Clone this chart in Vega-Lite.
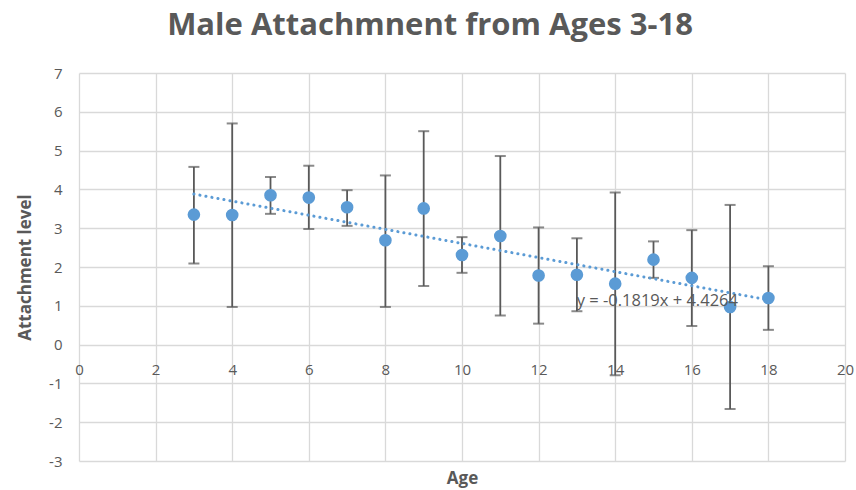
{
  "$schema": "https://vega.github.io/schema/vega-lite/v6.json",
  "autosize": "none",
  "width": 766,
  "height": 388,
  "padding": {"left": 79, "top": 73, "right": 11, "bottom": 29},
  "background": "white",
  "config": {
    "view": {"stroke": null},
    "font": "Open Sans",
    "axis": {"gridColor": "#d9d9d9", "gridWidth": 1.3, "domain": false, "ticks": false, "labelColor": "#595959", "labelFontSize": 15, "titleColor": "#595959", "titleFontSize": 17, "titleFontWeight": "bold", "labelFont": "Open Sans", "titleFont": "Open Sans", "labelOverlap": false}
  },
  "title": {"text": "Male Attachmnent from  Ages 3-18", "fontSize": 31, "fontWeight": "bold", "color": "#595959", "font": "Open Sans", "anchor": "middle", "dx": -32, "offset": 33, "dy": 33, "baseline": "alphabetic"},
  "datasets": {
    "pts": [
      {"age": 3, "mean": 3.35, "hi": 4.58, "lo": 2.09},
      {"age": 4, "mean": 3.34, "hi": 5.70, "lo": 0.97},
      {"age": 5, "mean": 3.85, "hi": 4.32, "lo": 3.37},
      {"age": 6, "mean": 3.79, "hi": 4.61, "lo": 2.98},
      {"age": 7, "mean": 3.54, "hi": 3.98, "lo": 3.06},
      {"age": 8, "mean": 2.69, "hi": 4.36, "lo": 0.97},
      {"age": 9, "mean": 3.51, "hi": 5.50, "lo": 1.51},
      {"age": 10, "mean": 2.31, "hi": 2.77, "lo": 1.85},
      {"age": 11, "mean": 2.80, "hi": 4.86, "lo": 0.75},
      {"age": 12, "mean": 1.78, "hi": 3.02, "lo": 0.54},
      {"age": 13, "mean": 1.80, "hi": 2.74, "lo": 0.86},
      {"age": 14, "mean": 1.57, "hi": 3.92, "lo": -0.79},
      {"age": 15, "mean": 2.19, "hi": 2.66, "lo": 1.72},
      {"age": 16, "mean": 1.72, "hi": 2.95, "lo": 0.48},
      {"age": 17, "mean": 0.97, "hi": 3.60, "lo": -1.66},
      {"age": 18, "mean": 1.20, "hi": 2.02, "lo": 0.38}
    ],
    "trend": [
      {"age": 3, "fit": 3.8807},
      {"age": 18, "fit": 1.1522}
    ],
    "eq": [
      {"age": 15.1, "val": 1.13, "label": "y = -0.1819x + 4.4264"}
    ]
  },
  "encoding": {
    "x": {"field": "age", "type": "quantitative", "scale": {"domain": [0, 20], "nice": false},
      "axis": {"title": "Age", "values": [0, 2, 4, 6, 8, 10, 12, 14, 16, 18, 20], "tickCount": 25, "format": "d", "labelPadding": -92, "labelBaseline": "middle", "titleY": 17, "titleBaseline": "middle", "labelFlush": false}}
  },
  "layer": [
    {
      "data": {"name": "pts"},
      "mark": {"type": "rule", "color": "#595959", "strokeWidth": 1.8},
      "encoding": {
        "y": {"field": "lo", "type": "quantitative", "scale": {"domain": [-3, 7], "nice": false},
          "axis": {"title": "Attachment level", "values": [-3, -2, -1, 0, 1, 2, 3, 4, 5, 6, 7], "tickCount": 20, "format": "d", "labelExpr": "replace(datum.label, '−', '-')", "labelPadding": 17, "titleX": -54, "titleY": 194, "titleAngle": 270, "titleBaseline": "middle", "titleAlign": "center"}},
        "y2": {"field": "hi"}
      }
    },
    {
      "data": {"name": "pts"},
      "mark": {"type": "tick", "orient": "horizontal", "color": "#595959", "size": 11, "thickness": 2},
      "encoding": {"y": {"field": "hi", "type": "quantitative"}}
    },
    {
      "data": {"name": "pts"},
      "mark": {"type": "tick", "orient": "horizontal", "color": "#595959", "size": 11, "thickness": 2},
      "encoding": {"y": {"field": "lo", "type": "quantitative"}}
    },
    {
      "data": {"name": "pts"},
      "mark": {"type": "point", "filled": true, "shape": "circle", "size": 160, "color": "#5B9BD5", "opacity": 1},
      "encoding": {"y": {"field": "mean", "type": "quantitative"}}
    },
    {
      "data": {"name": "trend"},
      "mark": {"type": "line", "color": "#5B9BD5", "strokeWidth": 3, "strokeDash": [0.1, 6], "strokeCap": "round"},
      "encoding": {"y": {"field": "fit", "type": "quantitative"}}
    },
    {
      "data": {"name": "eq"},
      "mark": {"type": "text", "fontSize": 16.5, "color": "#595959", "font": "Open Sans", "align": "center", "baseline": "middle"},
      "encoding": {"y": {"field": "val", "type": "quantitative"}, "text": {"field": "label"}}
    }
  ]
}
